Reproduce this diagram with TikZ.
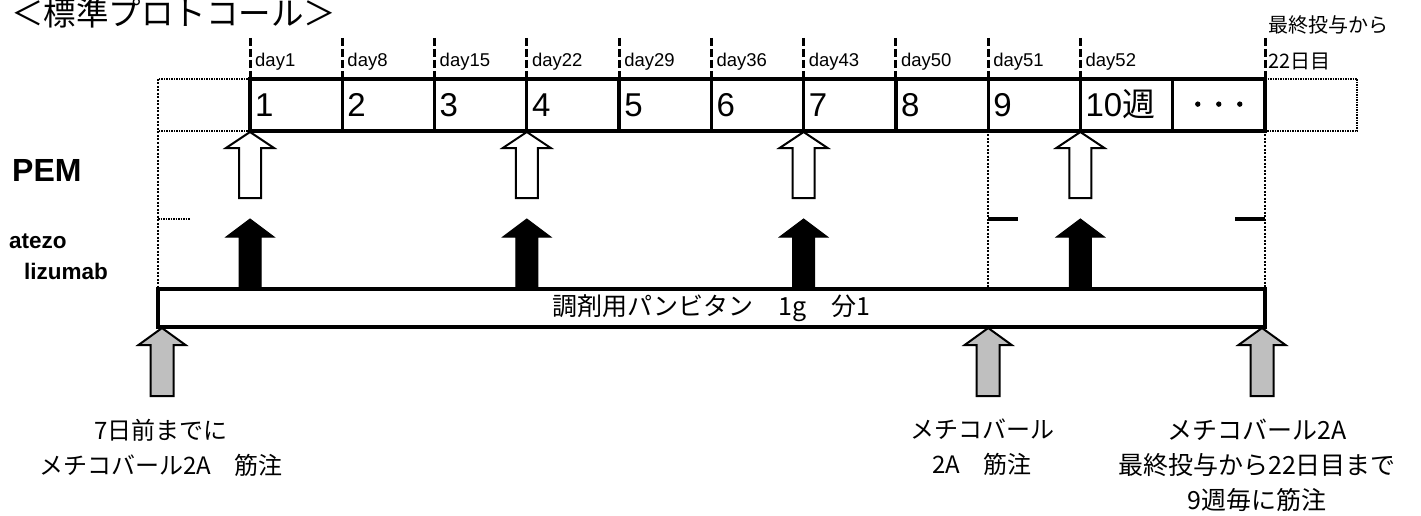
\documentclass[tikz,border=0pt]{standalone}
\usepackage{fontspec}
\setmainfont{Liberation Sans}
\newfontfamily\cjk{Noto Sans CJK JP}
\newfontfamily\cjkheavy[FakeBold=4]{Noto Sans CJK JP}
\newcommand{\blockup}[7]{%
  \draw[#1] (#2,#3) -- (#2+#6,#4) -- (#2+#7,#4) -- (#2+#7,#5) -- (#2-#7,#5) -- (#2-#7,#4) -- (#2-#6,#4) -- cycle;}
\begin{document}
\begin{tikzpicture}[x=1pt,y=-1pt,
  heavy/.style={line width=3.2pt},
  tickdash/.style={line width=3pt,dash pattern=on 8pt off 3pt},
  fdot/.style={line width=2pt,dash pattern=on 1.5pt off 1pt},
  vdot/.style={line width=2.5pt,dash pattern=on 2pt off 1.5pt},
  daylbl/.style={anchor=base west,inner sep=0pt,font=\fontsize{18.5}{22}\selectfont},
  weeknum/.style={anchor=base west,inner sep=0pt,font=\fontsize{33}{40}\selectfont},
  jp/.style={font=\cjk\fontsize{24}{35}\selectfont,align=center,inner sep=0pt},
  sidelbl/.style={anchor=base west,inner sep=0pt,font=\bfseries\fontsize{#1}{#1}\selectfont},
  whitearrow/.style={line width=2pt,draw=black,fill=white,line join=miter},
  blackarrow/.style={line width=1pt,draw=black,fill=black,line join=miter},
  grayarrow/.style={line width=2pt,draw=black,fill=gray!50,line join=miter},
  barbox/.style={draw=black,line width=3.2pt,fill=white,minimum width=1107pt,minimum height=38pt,inner sep=0pt}
]
\useasboundingbox (0,0) rectangle (1421,516);
% title
\node[anchor=base west,inner sep=0pt,font=\cjk\fontsize{32.5}{36}\selectfont] (title) at (11,26) {＜標準プロトコール＞};
% dotted frames
\draw[fdot] (250,79) -- (158,79);
\draw[fdot] (250,131) -- (158,131);
\draw[vdot] (158,79) -- (158,289);
\draw[fdot] (158,219) -- (190,219);
\draw[fdot] (1265,79) -- (1357,79) -- (1357,131) -- (1265,131);
\draw[vdot] (988.2,131) -- (988.2,289);
\draw[vdot] (1265,131) -- (1265,289);
\draw[heavy] (988.2,219) -- (1018,219);
\draw[heavy] (1235,219) -- (1265,219);
% tick lines and day labels
\foreach \k/\lab in {0/day1,1/day8,2/day15,3/day22,4/day29,5/day36,6/day43,7/day50,8/day51,9/day52}{
  \pgfmathsetmacro{\xx}{250+92.27*\k}
  \draw[tickdash] (\xx,38) -- (\xx,79);
  \node[daylbl] (d\k) at (\xx+5,67) {\lab};
}
\draw[tickdash] (1265,38) -- (1265,79);
\node[anchor=base west,inner sep=0pt,font=\cjk\fontsize{20}{24}\selectfont] (d11) at (1268,69) {22日目};
\node[anchor=base west,inner sep=0pt,font=\cjk\fontsize{20}{24}\selectfont] (last) at (1268,33) {最終投与から};
% week row
\draw[heavy] (250,79) rectangle (1265,131);
\foreach \k in {1,...,10}{
  \pgfmathsetmacro{\xx}{250+92.27*\k}
  \draw[heavy] (\xx,79) -- (\xx,131);
}
\foreach \k/\lab in {0/1,1/2,2/3,3/4,4/5,5/6,6/7,7/8,8/9}{
  \pgfmathsetmacro{\xx}{250+92.27*\k}
  \node[weeknum] (w\k) at (\xx+5,117) {\lab};
}
\node[weeknum] (w9) at (1080.4+5,117) {10{\cjk 週}};
\node[inner sep=0pt,font=\cjkheavy\fontsize{21}{24}\selectfont] (dots) at (1218.8,107) {・・・};
% side labels
\node[sidelbl=32] (pem) at (12,181) {PEM};
\node[sidelbl=22.5] (atezo) at (9,248) {atezo};
\node[sidelbl=22.5] (lizu) at (24,279) {lizumab};
% PEM arrows and atezolizumab arrows
\foreach \xx in {250,526.8,803.6,1080.4}{
  \blockup{whitearrow}{\xx}{132}{148}{198}{24}{11}
  \blockup{blackarrow}{\xx}{219}{237}{289}{24}{11}
}
% bar
\node[barbox] (bar) at (711.5,308) {};
\node[jp,font=\cjk\fontsize{25}{30}\selectfont] (bartext) at (711.5,308) {調剤用パンビタン　1g　分1};
% gray arrows
\blockup{grayarrow}{162}{328}{345}{396}{23.5}{11.5}
\blockup{grayarrow}{988.2}{328}{345}{396}{23.5}{11.5}
\blockup{grayarrow}{1262}{328}{345}{396}{23.5}{11.5}
% bottom labels
\node[jp] (lab1) at (161,447.5) {7日前までに\\メチコバール2A　筋注};
\node[jp] (lab2) at (982,447.5) {メチコバール\\2A　筋注};
\node[jp,font=\cjk\fontsize{25}{35}\selectfont] (lab3) at (1257,465) {メチコバール2A\\最終投与から22日目まで\\9週毎に筋注};
\end{tikzpicture}
\end{document}
